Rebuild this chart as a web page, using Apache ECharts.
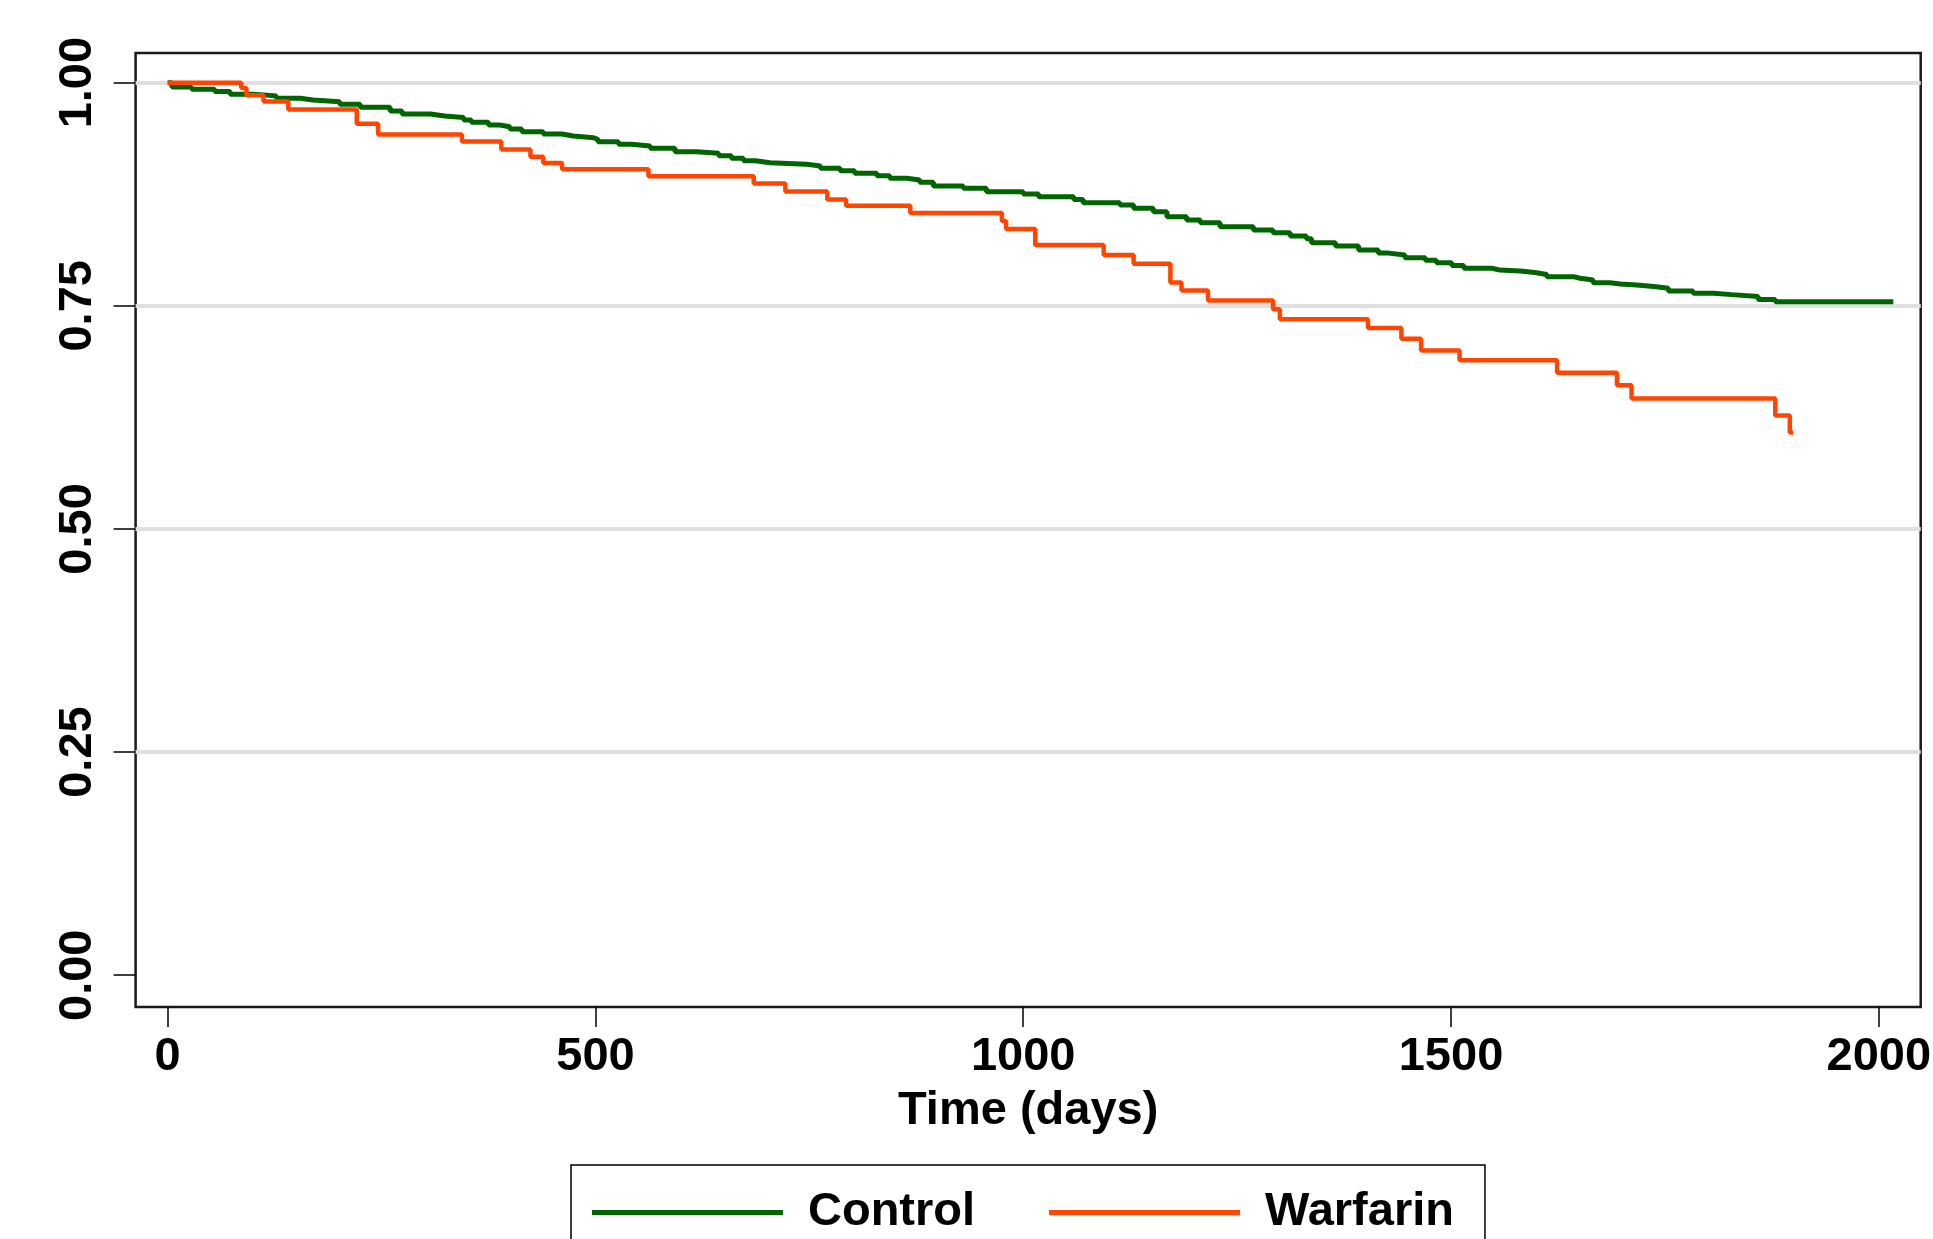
<!DOCTYPE html>
<html>
<head>
<meta charset="utf-8">
<script src="https://cdn.jsdelivr.net/npm/echarts@6/dist/echarts.min.js"></script>
<style>html,body{margin:0;padding:0;background:#fff;overflow:hidden;}#chart{width:1933px;height:1239px;}</style>
</head>
<body>
<div id="chart"></div>
<script>
// ---- Data ----
const seriesNames = ['Control', 'Warfarin'];
const xTickValues = [0, 500, 1000, 1500, 2000];
const yTickValues = [0, 0.25, 0.5, 0.75, 1];
const yGridValues = [0.25, 0.5, 0.75, 1];
const xTitle = 'Time (days)';

const controlTime = [0, 5, 28, 55, 73, 100, 116, 127, 155, 170, 201, 225, 260, 274, 307, 324, 346, 355, 375, 388, 400, 414, 439, 461, 474, 498, 503, 527, 542, 564, 593, 618, 644, 659, 673, 687, 704, 747, 763, 786, 803, 829, 844, 864, 879, 895, 930, 957, 1000, 1018, 1059, 1070, 1113, 1129, 1152, 1168, 1191, 1207, 1230, 1269, 1292, 1312, 1331, 1337, 1365, 1392, 1415, 1427, 1446, 1470, 1483, 1501, 1515, 1548, 1557, 1581, 1598, 1612, 1643, 1651, 1666, 1686, 1698, 1717, 1737, 1754, 1783, 1807, 1828, 1859, 1879, 2017];
const controlSurv = [1.000, 0.995, 0.9925, 0.990, 0.987, 0.986, 0.985, 0.9825, 0.9805, 0.9786, 0.9757, 0.9723, 0.9682, 0.9648, 0.9626, 0.961, 0.958, 0.9555, 0.9525, 0.9506, 0.948, 0.945, 0.9424, 0.9402, 0.9383, 0.9362, 0.9338, 0.9309, 0.929, 0.9264, 0.9226, 0.9208, 0.9181, 0.9152, 0.9125, 0.9103, 0.9085, 0.9066, 0.904, 0.9013, 0.8984, 0.8957, 0.8928, 0.8909, 0.8883, 0.8842, 0.8816, 0.8778, 0.8752, 0.8722, 0.869, 0.8655, 0.8629, 0.8592, 0.8554, 0.8498, 0.8461, 0.843, 0.8386, 0.8349, 0.8318, 0.8281, 0.825, 0.8207, 0.817, 0.8125, 0.809, 0.8069, 0.8039, 0.801, 0.7983, 0.795, 0.792, 0.790, 0.789, 0.7872, 0.785, 0.7826, 0.7808, 0.7789, 0.7758, 0.7745, 0.7733, 0.7715, 0.7696, 0.7665, 0.764, 0.7625, 0.7605, 0.757, 0.7545, 0.7545];

const warfarinTime = [0, 86, 92, 112, 141, 221, 246, 344, 390, 424, 439, 461, 562, 685, 722, 771, 793, 868, 975, 980, 1014, 1094, 1129, 1172, 1185, 1216, 1292, 1300, 1403, 1442, 1465, 1510, 1624, 1694, 1711, 1879, 1896, 1900];
const warfarinSurv = [1.000, 0.994, 0.986, 0.979, 0.970, 0.954, 0.942, 0.934, 0.925, 0.917, 0.910, 0.903, 0.895, 0.887, 0.878, 0.869, 0.862, 0.854, 0.845, 0.836, 0.818, 0.807, 0.797, 0.776, 0.767, 0.756, 0.746, 0.735, 0.725, 0.713, 0.700, 0.689, 0.675, 0.661, 0.646, 0.627, 0.608, 0.608];

const colors = ['#006400', '#ff4500'];

const zip = (a, b) => a.map((v, i) => [v, b[i]]);
const FONT = '"Liberation Sans", Arial, Helvetica, sans-serif';
const FS = 47;

const chart = echarts.init(document.getElementById('chart'), null, {renderer: 'canvas'});
const option = {
  backgroundColor: '#ffffff',
  animation: false,
  grid: {
    left: 135.6, top: 53, right: 12.3, bottom: 232,
    show: true, borderColor: '#1a1a1a', borderWidth: 2.5, backgroundColor: '#ffffff',
    containLabel: false, outerBoundsMode: 'none'
  },
  xAxis: {
    type: 'value', min: -37.5, max: 2049,
    axisLine: {show: false, onZero: false},
    axisTick: {show: true, length: 20, customValues: xTickValues, lineStyle: {color: '#000', width: 1.5}},
    axisLabel: {customValues: xTickValues, fontFamily: FONT, fontSize: FS, fontWeight: 'bold', color: '#000', margin: 50,
                verticalAlign: 'middle', formatter: v => String(v), hideOverlap: false},
    splitLine: {show: false},
    name: xTitle, nameLocation: 'middle', nameGap: 104,
    nameTextStyle: {fontFamily: FONT, fontSize: FS, fontWeight: 'bold', color: '#000', verticalAlign: 'middle'}
  },
  yAxis: {
    type: 'value', min: -0.0356, max: 1.0332,
    axisLine: {show: false, onZero: false},
    axisTick: {show: true, length: 22, customValues: yTickValues, lineStyle: {color: '#000', width: 1.5}},
    axisLabel: {customValues: yTickValues, fontFamily: FONT, fontSize: FS, fontWeight: 'bold', color: '#000', rotate: 90, margin: 58,
                align: 'center', verticalAlign: 'middle', formatter: v => v.toFixed(2), hideOverlap: false},
    splitLine: {show: false}
  },
  legend: {
    left: 571, top: 1165, orient: 'horizontal',
    padding: [24, 31, 24, 21],
    borderColor: '#000', borderWidth: 1.5, backgroundColor: '#fff',
    icon: 'rect', itemWidth: 191, itemHeight: 5, itemGap: 74,
    textStyle: {fontFamily: FONT, fontSize: FS, fontWeight: 'bold', color: '#000', padding: [0, 0, 0, 20]},
    data: seriesNames
  },
  series: [
    {name: 'grid', type: 'line', data: [], z: 1, silent: true,
     markLine: {silent: true, z: 1, symbol: ['none', 'none'], label: {show: false}, animation: false,
                lineStyle: {color: '#e0e0e0', width: 4, type: 'solid'},
                emphasis: {disabled: true},
                data: yGridValues.map(v => ({yAxis: v}))}},
    {name: seriesNames[0], type: 'line', step: 'end', showSymbol: false, symbol: 'none', clip: true,
     data: zip(controlTime, controlSurv), lineStyle: {color: colors[0], width: 5}, itemStyle: {color: colors[0]}, z: 3},
    {name: seriesNames[1], type: 'line', step: 'end', showSymbol: false, symbol: 'none', clip: true,
     data: zip(warfarinTime, warfarinSurv), lineStyle: {color: colors[1], width: 4.5}, itemStyle: {color: colors[1]}, z: 4}
  ]
};
chart.setOption(option);
</script>
</body>
</html>
